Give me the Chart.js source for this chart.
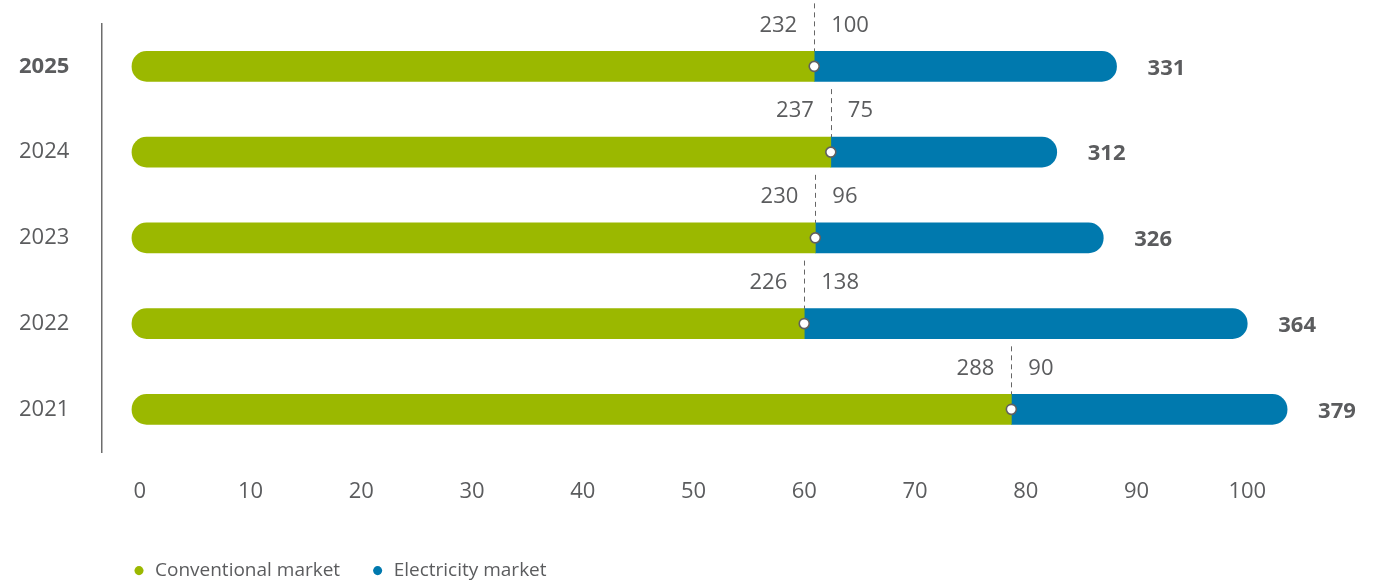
<!DOCTYPE html>
<html>
<head>
<meta charset="utf-8">
<script src="https://cdn.jsdelivr.net/npm/chart.js@4.4.1/dist/chart.umd.min.js"></script>
<style>
  html, body { margin: 0; padding: 0; background: #ffffff; }
  #wrap { width: 1384px; height: 582px; position: relative; }
</style>
</head>
<body>
<div id="wrap"><canvas id="chart"></canvas></div>
<script>
// ---- data ----
const years = ['2025', '2024', '2023', '2022', '2021'];
// bar lengths on the chart's 0-100 axis
const conventionalBar = [60.9, 62.4, 61.0, 60.0, 78.7];
const electricityBar = [27.3, 20.4, 26.0, 40.0, 24.9];
// printed values
const conventionalLabels = [232, 237, 230, 226, 288];
const electricityLabels = [100, 75, 96, 138, 90];
const totalLabels = [331, 312, 326, 364, 379];
const xTicks = [0, 10, 20, 30, 40, 50, 60, 70, 80, 90, 100];

const GREEN = '#9BB800';
const BLUE = '#0079AE';
const TEXT = '#5b5c5e';
const FONT = "'Open Sans', sans-serif";
const BAR_START = -0.7;

const annotate = {
  id: 'annotate',
  afterDatasetsDraw(chart) {
    const ctx = chart.ctx;
    const conv = chart.getDatasetMeta(0).data;
    const elec = chart.getDatasetMeta(1).data;
    ctx.save();
    conv.forEach((bar, i) => {
      const jx = bar.x, cy = bar.y, half = bar.height / 2;
      const lx = Math.round(jx) + 0.5;
      ctx.beginPath();
      ctx.setLineDash([5, 4]);
      ctx.strokeStyle = '#666666';
      ctx.lineWidth = 1;
      ctx.moveTo(lx, cy - half - 48);
      ctx.lineTo(lx, cy - half);
      ctx.stroke();
      ctx.setLineDash([]);

      ctx.font = '22px ' + FONT;
      ctx.fillStyle = TEXT;
      ctx.textBaseline = 'middle';
      ctx.textAlign = 'right';
      ctx.fillText(String(conventionalLabels[i]), jx - 17, cy - half - 26);
      ctx.textAlign = 'left';
      ctx.fillText(String(electricityLabels[i]), jx + 17, cy - half - 26);

      ctx.beginPath();
      ctx.arc(jx, cy, 5, 0, Math.PI * 2);
      ctx.fillStyle = '#ffffff';
      ctx.fill();
      ctx.lineWidth = 1.6;
      ctx.strokeStyle = '#606060';
      ctx.stroke();

      const ex = elec[i].x;
      ctx.font = 'bold 22px ' + FONT;
      ctx.fillStyle = TEXT;
      ctx.textAlign = 'left';
      ctx.fillText(String(totalLabels[i]), ex + 31, cy + 2);
    });
    ctx.restore();
  }
};

Chart.defaults.font.family = FONT;
Chart.defaults.color = TEXT;

new Chart(document.getElementById('chart'), {
  type: 'bar',
  data: {
    labels: years,
    datasets: [
      {
        label: 'Conventional market',
        data: conventionalBar,
        backgroundColor: GREEN,
        base: BAR_START,
        borderSkipped: false,
        borderRadius: { topLeft: 15, bottomLeft: 15, topRight: 0, bottomRight: 0 },
        barThickness: 30
      },
      {
        label: 'Electricity market',
        data: electricityBar,
        backgroundColor: BLUE,
        borderSkipped: false,
        borderRadius: { topLeft: 0, bottomLeft: 0, topRight: 15, bottomRight: 15 },
        barThickness: 30
      }
    ]
  },
  options: {
    indexAxis: 'y',
    responsive: true,
    maintainAspectRatio: false,
    animation: false,
    layout: { padding: { left: 19, right: 26, top: 23.5, bottom: -8.1 } },
    scales: {
      x: {
        stacked: true,
        min: -3.45,
        max: 110,
        grid: { display: false, drawTicks: false },
        border: { display: false },
        afterBuildTicks: (scale) => { scale.ticks = xTicks.map(v => ({ value: v })); },
        afterFit: (scale) => { scale.height -= 1.5; },
        ticks: {
          padding: 26.5,
          color: TEXT,
          font: { size: 22, family: FONT },
          callback: (v) => String(v),
          maxRotation: 0,
          autoSkip: false
        }
      },
      y: {
        stacked: true,
        grid: { display: false, drawTicks: false },
        border: { display: true, color: '#6d6d6d', width: 1.5 },
        afterFit: (scale) => { scale.width = 82.5; },
        ticks: {
          padding: 0,
          crossAlign: 'far',
          color: TEXT,
          font: (c) => ({ size: 22, family: FONT, weight: c.index === 0 ? 'bold' : 'normal' })
        }
      }
    },
    plugins: {
      tooltip: { enabled: false },
      legend: {
        position: 'bottom',
        align: 'start',
        fullSize: false,
        labels: {
          usePointStyle: true,
          pointStyle: 'circle',
          boxWidth: 13,
          boxHeight: 6.4,
          padding: 31,
          color: TEXT,
          font: { size: 19, family: FONT }
        }
      }
    }
  },
  plugins: [annotate]
});
</script>
</body>
</html>
